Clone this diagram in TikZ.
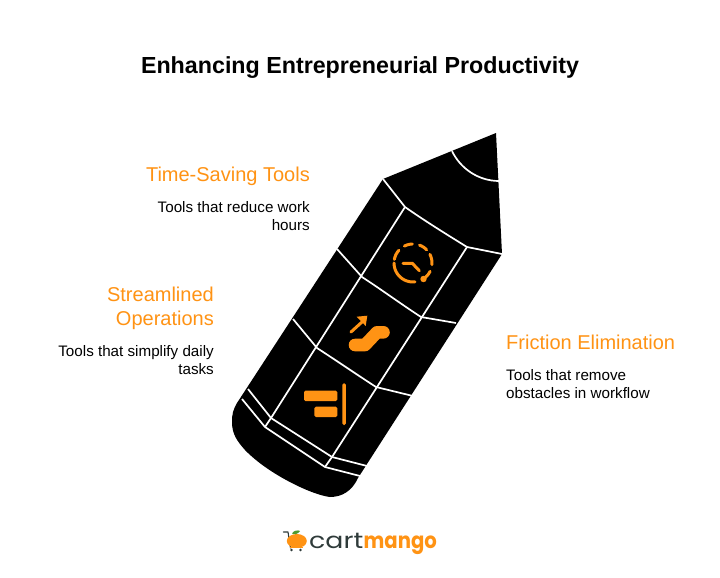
\documentclass[tikz,border=0pt]{standalone}
\usepackage{fontspec}
\usepackage{graphicx}
\setmainfont{Liberation Sans}
\newfontfamily\logofont{Poppins}
\definecolor{org}{HTML}{FF9314}
\definecolor{logodark}{HTML}{2F3B3A}
\definecolor{leafg}{HTML}{4E9A2E}
\tikzset{
 ttl/.style={font=\fontsize{23.25}{28}\selectfont\bfseries,anchor=base,inner sep=0pt},
 hd/.style={font=\fontsize{20}{24}\selectfont,text=org,inner sep=0pt},
 bd/.style={font=\fontsize{15.2}{18}\selectfont,text=black,inner sep=0pt},
 seam/.style={draw=white,line width=1.7pt,line join=round},
 ico/.style={draw=org,line width=3pt,line cap=round,line join=round},
 logotext/.style={anchor=base west,inner sep=0pt,font=\logofont\fontsize{22.3}{26}\selectfont},
}
\begin{document}
\begin{tikzpicture}[x=1pt,y=-1pt]
\useasboundingbox (0,0) rectangle (720,578);
\fill[white] (0,0) rectangle (720,578);
\node[ttl] (title) at (360,73.5) {Enhancing Entrepreneurial Productivity};
% pencil body
\fill[black] (496,133) -- (502,254) -- (358,478)
  .. controls (352,491) and (342,497) .. (330,497)
  .. controls (312,495) and (268,474) .. (245,450)
  .. controls (237,441) and (232,434) .. (232,422)
  .. controls (232,414) and (233,410) .. (237,403)
  -- (383,179) -- cycle;
% seams
\draw[seam] (452,151) .. controls (460,168) and (478,181) .. (499,181);
\draw[seam] (383,179) -- (405,207) .. controls (425,221) and (446,234) .. (467,247) -- (502,254);
\draw[seam] (337,249) -- (362,277) .. controls (382,290) and (401,304) .. (421,317) -- (456,323);
\draw[seam] (293,319) -- (317,348) .. controls (337,361) and (356,374) .. (376,387) -- (413,396);
\draw[seam] (248,389) -- (271,418) -- (332,457) -- (367,466);
\draw[seam] (242,399) -- (265,427) -- (325,467) -- (360,476);
\draw[seam] (405,207) -- (271,418) -- (265,427);
\draw[seam] (467,247) -- (332,457) -- (325,467);
% clock icon
\draw[ico] plot[domain=243:268,samples=6] ({413+19*cos(\x)},{263+19*sin(\x)});
\draw[ico] plot[domain=290:316,samples=6] ({413+19*cos(\x)},{263+19*sin(\x)});
\draw[ico] plot[domain=333:365,samples=6] ({413+19*cos(\x)},{263+19*sin(\x)});
\draw[ico] plot[domain=26:53,samples=6] ({413+19*cos(\x)},{263+19*sin(\x)});
\draw[ico] plot[domain=84:180,samples=16] ({413+19*cos(\x)},{263+19*sin(\x)});
\draw[ico] plot[domain=191:222,samples=6] ({413+19*cos(\x)},{263+19*sin(\x)});
\fill[org] (423.5,279) circle (3.2);
\draw[ico] (403,263.3) -- (412.3,263.3) -- (419.3,270.7);
% escalator icon
\draw[org,line width=12.6pt,line cap=round,line join=round] (355,345) -- (365,345) -- (377,332.3) -- (383.5,332.3);
\draw[ico] (351,332) -- (362,322);
\fill[org] (356.7,316.7) -- (367.3,315.7) -- (365.7,326) -- cycle;
% align icon
\fill[org,rounded corners=1.5pt] (304,390.7) rectangle (337.3,401);
\fill[org,rounded corners=1.5pt] (314.3,406.7) rectangle (337.3,417);
\fill[org,rounded corners=1.4pt] (342.4,383.3) rectangle (345.8,425);
% labels
\node[hd,anchor=base east] (t1) at (310,181) {Time-Saving Tools};
\node[bd,anchor=base east] (b1a) at (310,212) {Tools that reduce work};
\node[bd,anchor=base east] (b1b) at (310,230) {hours};
\node[hd,anchor=base east] (t2a) at (214,301) {Streamlined};
\node[hd,anchor=base east] (t2b) at (214,325) {Operations};
\node[bd,anchor=base east] (b2a) at (214,356) {Tools that simplify daily};
\node[bd,anchor=base east] (b2b) at (214,374) {tasks};
\node[hd,anchor=base west] (t3) at (506,349) {Friction Elimination};
\node[bd,anchor=base west] (b3a) at (506,398) {obstacles in workflow};
\node[bd,anchor=base west] (b3b) at (506,380) {Tools that remove};
% logo
\draw[logodark,line width=1.1pt,line cap=round,line join=round] (283.5,532) -- (288,532) -- (290.5,548);
\draw[org,line width=1.2pt] (289.5,547.5) -- (303,547.5);
\fill[org] (296.8,541) ellipse (10 and 7);
\fill[leafg] (292,533.5) .. controls (294,530) and (298,530) .. (300,531) .. controls (298,534) and (295,535) .. (292,533.5) -- cycle;
\fill[logodark] (291.5,550) circle (1.4) (300.5,550) circle (1.4);
\node[logotext,text=logodark] (logocart) at (309,548.5) {\scalebox{1.2}[1]{cart}};
\node[logotext,text=org] (logomango) at (363.5,548.5) {\scalebox{0.88}[1]{\bfseries mango}};
\end{tikzpicture}
\end{document}
